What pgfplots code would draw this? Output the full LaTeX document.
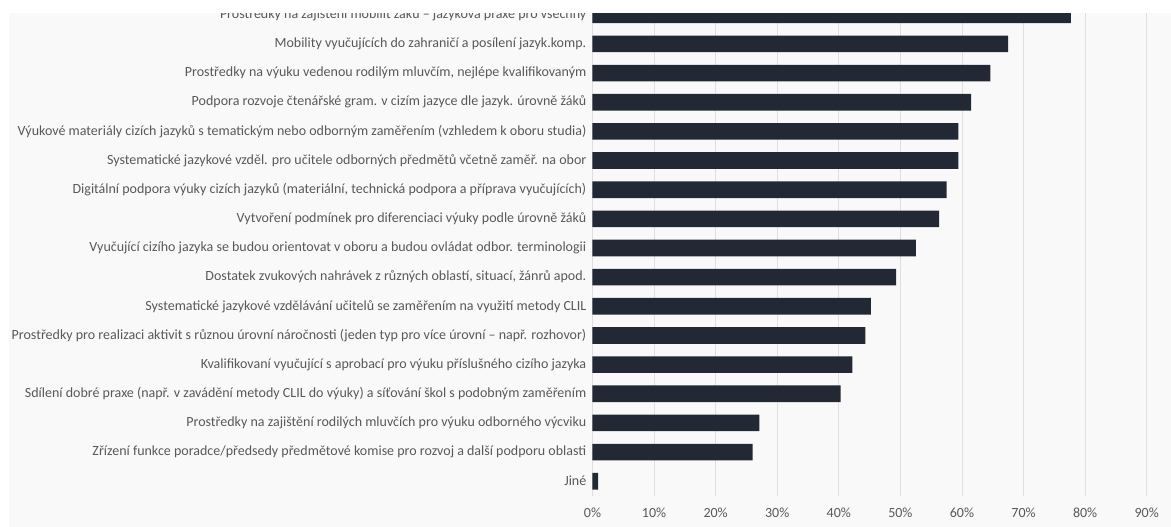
\documentclass[border=0pt]{standalone}
\usepackage{fontspec}
\setmainfont{Carlito}
\usepackage{pgfplots}
\usepackage{pgfplotstable}
\pgfplotsset{compat=1.18}
\usetikzlibrary{backgrounds}
\definecolor{barcol}{HTML}{232934}
\definecolor{bg}{HTML}{F9F9F9}
\definecolor{gridc}{HTML}{DFDFDF}
\definecolor{txt}{HTML}{595959}
\pgfplotstableread{
i v
0 77.7
1 67.5
2 64.6
3 61.5
4 59.4
5 59.4
6 57.5
7 56.3
8 52.5
9 49.3
10 45.2
11 44.3
12 42.2
13 40.3
14 27.1
15 26.0
16 0.9
}\datatab
\begin{document}
\begin{tikzpicture}
\begin{axis}[
  scale only axis,
  width=554.2pt, height=495.6pt,
  xmin=0, xmax=90, ymin=-0.5, ymax=16.5, y dir=reverse,
  xtick={0,10,...,90}, ytick={0,...,16},
  yticklabels={
    {Prostředky na zajištění mobilit žáků – jazyková praxe pro všechny},
    {Mobility vyučujících do zahraničí a posílení jazyk.komp.},
    {Prostředky na výuku vedenou rodilým mluvčím, nejlépe kvalifikovaným},
    {Podpora rozvoje čtenářské gram. v cizím jazyce dle jazyk. úrovně žáků},
    {Výukové materiály cizích jazyků s tematickým nebo odborným zaměřením (vzhledem k oboru studia)},
    {Systematické jazykové vzděl. pro učitele odborných předmětů včetně zaměř. na obor},
    {Digitální podpora výuky cizích jazyků (materiální, technická podpora a příprava vyučujících)},
    {Vytvoření podmínek pro diferenciaci výuky podle úrovně žáků},
    {Vyučující cizího jazyka se budou orientovat v oboru a budou ovládat odbor. terminologii},
    {Dostatek zvukových nahrávek z různých oblastí, situací, žánrů apod.},
    {Systematické jazykové vzdělávání učitelů se zaměřením na využití metody CLIL},
    {Prostředky pro realizaci aktivit s různou úrovní náročnosti (jeden typ pro více úrovní – např. rozhovor)},
    {Kvalifikovaní vyučující s aprobací pro výuku příslušného cizího jazyka},
    {Sdílení dobré praxe (např. v zavádění metody CLIL do výuky) a síťování škol s podobným zaměřením},
    {Prostředky na zajištění rodilých mluvčích pro výuku odborného výcviku},
    {Zřízení funkce poradce/předsedy předmětové komise pro rozvoj a další podporu oblasti},
    {Jiné}},
  xmajorgrids, major grid style={gridc, line width=0.9pt},
  axis line style={draw=none}, major tick length=0pt,
  tick label style={font=\fontsize{14}{16}\selectfont, text=txt},
  yticklabel style={anchor=east, inner sep=0pt, xshift=-6pt},
  xticklabel style={anchor=north, inner sep=0pt, yshift=-12pt},
  /pgf/number format/assume math mode=true,
  xticklabel={\pgfmathprintnumber{\tick}\%},
]
\addplot[xbar, fill=barcol, draw=none, bar width=0.57] table[x=v, y=i] {\datatab};
\coordinate (BL) at (axis cs:0,16.5);
\end{axis}
\pgfresetboundingbox
\path[use as bounding box] ([shift={(-592.5pt,-31.2pt)}]BL) rectangle ([shift={(578.5pt,495.8pt)}]BL);
\begin{scope}[on background layer]
\fill[bg] ([shift={(-583.9pt,-31.2pt)}]BL) rectangle ([shift={(578.5pt,495.8pt)}]BL);
\end{scope}
\fill[white] ([shift={(-592.5pt,483.1pt)}]BL) rectangle ([shift={(578.5pt,495.8pt)}]BL);
\end{tikzpicture}
\end{document}
